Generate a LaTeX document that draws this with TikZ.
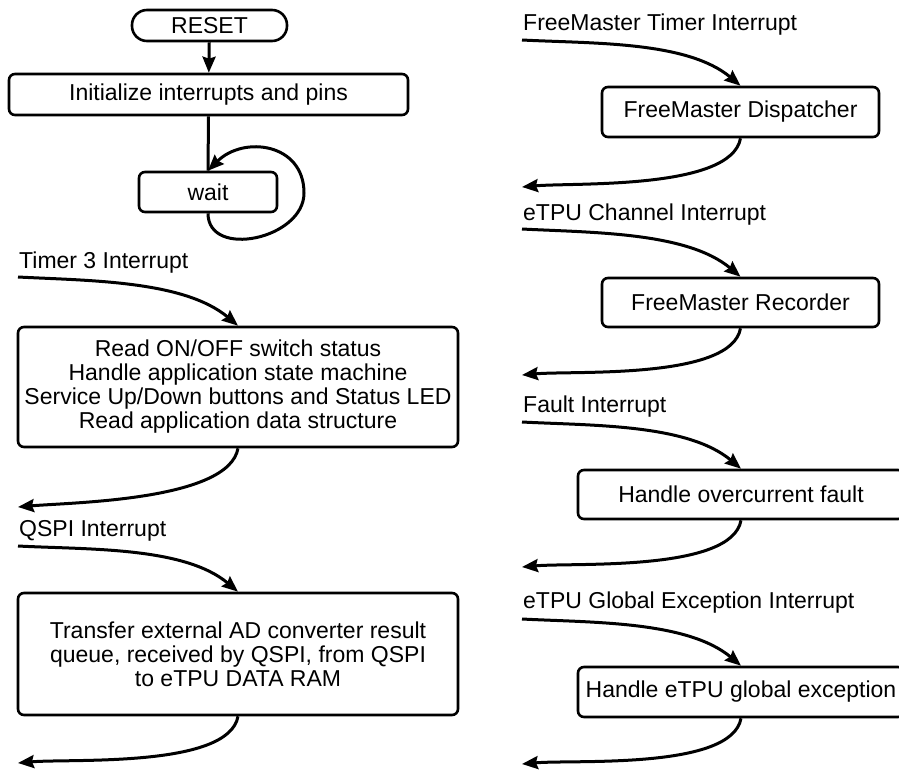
\documentclass[tikz,border=0pt]{standalone}
\usepackage{fontspec}
\setmainfont{Liberation Sans}
\usetikzlibrary{arrows.meta}
\begin{document}
\begin{tikzpicture}[x=1pt,y=-1pt,
  every node/.style={font=\fontsize{23}{24}\selectfont},
  box/.style={draw,line width=2.6pt,rounded corners=6pt,align=center,inner sep=0pt},
  term/.style={draw,line width=2.6pt,rounded corners=15pt,inner sep=0pt},
  lbl/.style={anchor=base west,inner sep=0pt},
  flow/.style={line width=3pt,-{Stealth[length=16pt,width=13pt,inset=2pt]}},
  plain/.style={line width=3pt},
  incurve/.style={out=-3,in=140,looseness=0.8},
  outcurve/.style={out=-100,in=5,looseness=0.6}]
\useasboundingbox (0,0) rectangle (899,773);
\clip (0,0) rectangle (899,773);
% left column
\node[term,minimum width=155pt,minimum height=31pt] (reset) at (209.5,25.5) {RESET};
\node[box,minimum width=399pt,minimum height=41pt] (init) at (208.5,94.5) {Initialize interrupts and pins};
\node[box,minimum width=138pt,minimum height=40pt] (wait) at (208,192) {wait};
\draw[flow] (reset) -- (init);
\draw[plain] (init.south) -- (wait.north);
\coordinate (loopR) at (304,193);
\draw[flow] (wait.south) to[out=-90,in=-90,looseness=1.2] (loopR) to[out=90,in=45,looseness=1.3] (wait.north);

\node[lbl] (t3l) at (19,268) {Timer 3 Interrupt};
\node[box,minimum width=440pt,minimum height=120pt] (t3) at (238,387)
  {Read ON/OFF switch status\\Handle application state machine\\Service Up/Down buttons and Status LED\\Read application data structure};
\coordinate (t3in) at (18,277);
\coordinate (t3out) at (18,507);
\draw[flow] (t3in) to[incurve] (t3.north);
\draw[flow] (t3.south) to[outcurve] (t3out);

\node[lbl] (ql) at (19,536) {QSPI Interrupt};
\node[box,minimum width=440pt,minimum height=122pt] (qspi) at (238,654)
  {Transfer external AD converter result\\queue, received by QSPI, from QSPI\\to eTPU DATA RAM};
\coordinate (qin) at (18,546);
\coordinate (qout) at (18,763);
\draw[flow] (qin) to[incurve] (qspi.north);
\draw[flow] (qspi.south) to[outcurve] (qout);

% right column
\node[lbl] (fml) at (523,30.5) {FreeMaster Timer Interrupt};
\node[box,minimum width=277pt,minimum height=50pt] (fmd) at (740.5,112) {FreeMaster Dispatcher};
\coordinate (fmin) at (522,40);
\coordinate (fmout) at (522,187);
\draw[flow] (fmin) to[incurve] (fmd.north);
\draw[flow] (fmd.south) to[outcurve] (fmout);

\node[lbl] (chl) at (523,220) {eTPU Channel Interrupt};
\node[box,minimum width=277pt,minimum height=49pt] (fmr) at (740.5,302.5) {FreeMaster Recorder};
\coordinate (chin) at (522,229);
\coordinate (chout) at (522,375);
\draw[flow] (chin) to[incurve] (fmr.north);
\draw[flow] (fmr.south) to[outcurve] (chout);

\node[lbl] (fl) at (523,412) {Fault Interrupt};
\node[box,minimum width=326pt,minimum height=49pt] (fault) at (741,494.5) {Handle overcurrent fault};
\coordinate (fin) at (522,422);
\coordinate (fout) at (522,567);
\draw[flow] (fin) to[incurve] (fault.north);
\draw[flow] (fault.south) to[outcurve] (fout);

\node[lbl] (gl) at (523,608) {eTPU Global Exception Interrupt};
\node[box,minimum width=326pt,minimum height=50pt] (gex) at (741,692) {Handle eTPU global exception};
\coordinate (gin) at (522,619);
\coordinate (gout) at (522,764);
\draw[flow] (gin) to[incurve] (gex.north);
\draw[flow] (gex.south) to[outcurve] (gout);
\end{tikzpicture}
\end{document}
